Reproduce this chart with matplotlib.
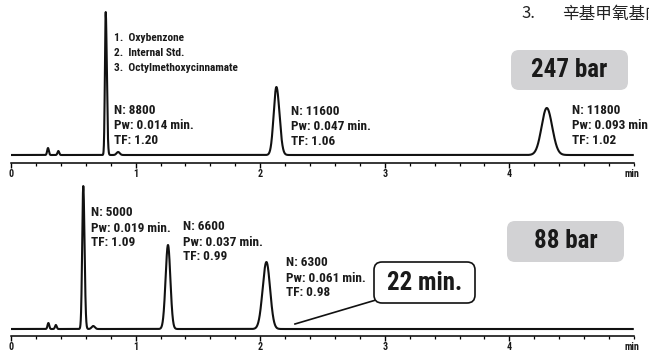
import numpy as np
import matplotlib
matplotlib.use("Agg")
import matplotlib.pyplot as plt
from matplotlib.patches import FancyBboxPatch

NARROW = ["Roboto Condensed", "Liberation Sans Narrow", "Roboto", "DejaVu Sans"]
CJK = ["Noto Sans CJK SC", "DejaVu Sans"]
plt.rcParams["font.family"] = NARROW
plt.rcParams["font.weight"] = "bold"

# peaks of the 247 bar run: retention time [min], height, half-height width [min], tailing
top_rt = [0.297, 0.38, 0.76, 0.86, 2.13, 4.30]
top_height = [7, 4, 143, 3, 68, 47]
top_width = [0.016, 0.016, 0.018, 0.03, 0.055, 0.10]
top_tf = [1.0, 1.0, 1.20, 1.0, 1.06, 1.02]

# peaks of the 88 bar run
bot_rt = [0.30, 0.36, 0.58, 0.66, 1.26, 2.05]
bot_height = [6, 4, 143, 3, 84, 67]
bot_width = [0.016, 0.016, 0.022, 0.03, 0.045, 0.07]
bot_tf = [1.0, 1.0, 1.09, 1.0, 0.99, 0.98]

legend_lines = ["1.  Oxybenzone", "2.  Internal Std.", "3.  Octylmethoxycinnamate"]
top_stats = [["N: 8800", "Pw: 0.014 min.", "TF: 1.20"],
             ["N: 11600", "Pw: 0.047 min.", "TF: 1.06"],
             ["N: 11800", "Pw: 0.093 min", "TF: 1.02"]]
bot_stats = [["N: 5000", "Pw: 0.019 min.", "TF: 1.09"],
             ["N: 6600", "Pw: 0.037 min.", "TF: 0.99"],
             ["N: 6300", "Pw: 0.061 min.", "TF: 0.98"]]
xticks = [0, 1, 2, 3, 4]


def trace(t, rt, height, width, tf):
    y = np.zeros_like(t)
    for r, h, w, f in zip(rt, height, width, tf):
        ratio = 2 * f - 1  # back/front width at 5% height
        s_left = w / 1.1774 / (1 + ratio)
        s_right = s_left * ratio
        s = np.where(t < r, s_left, s_right)
        y += h * np.exp(-0.5 * ((t - r) / s) ** 2)
    return y


def style_axis(ax, ylim):
    ax.set_xlim(0, 5.0)
    ax.set_ylim(*ylim)
    for side in ["top", "right", "left"]:
        ax.spines[side].set_visible(False)
    ax.spines["bottom"].set_linewidth(1.1)
    ax.set_yticks([])
    ax.set_xticks(xticks)
    ax.set_xticks(np.arange(0, 5.01, 0.2), minor=True)
    ax.tick_params(axis="x", which="major", length=3.5, width=1.0, pad=0.6,
                   labelsize=7.2, labelcolor="#1a1a1a")
    ax.tick_params(axis="x", which="minor", length=2.5, width=0.9)
    ax.annotate("min", xy=(4.98, 0), xycoords=ax.get_xaxis_transform(),
                xytext=(0, -4.3), textcoords="offset points", ha="center", va="top",
                fontsize=7.2, color="#1a1a1a")


def stack(ax, x, y0, lines, step=15, size=9.5):
    for i, s in enumerate(lines):
        ax.text(x, y0 - i * step, s, ha="left", va="center", fontsize=size,
                color="#1a1a1a")


def box(fig, x0, y0, x1, y1, label, face, edge=None):
    # pixel coordinates measured from the top left corner
    H = fig.get_figheight() * 100
    patch = FancyBboxPatch((x0 / 100, (H - y1) / 100), (x1 - x0) / 100, (y1 - y0) / 100,
                           boxstyle="round,pad=0,rounding_size=0.08",
                           transform=fig.dpi_scale_trans, facecolor=face,
                           edgecolor=edge if edge else "none", linewidth=1.2)
    fig.add_artist(patch)
    fig.text((x0 + x1) / 2 / fig.get_figwidth() / 100, 1 - (y0 + y1) / 2 / H, label,
             ha="center", va="center", fontsize=18, color="#1a1a1a")


fig = plt.figure(figsize=(6.49, 3.52), dpi=100)
W, H = 649, 352
ax_top = fig.add_axes([11 / W, (H - 163) / H, 623 / W, 153 / H])
ax_bot = fig.add_axes([11 / W, (H - 336) / H, 623 / W, 153 / H])
for ax in (ax_top, ax_bot):
    ax.patch.set_alpha(0)

t = np.linspace(0, 4.99, 6000)
ax_top.plot(t, trace(t, top_rt, top_height, top_width, top_tf), color="#111111", lw=1.5)
ax_bot.plot(t, trace(t, bot_rt, bot_height, bot_width, bot_tf), color="#111111", lw=1.5)
style_axis(ax_top, (-8, 145))
style_axis(ax_bot, (-7, 146))

# top panel labels
stack(ax_top, 0.827, 117, legend_lines, size=8.2)
stack(ax_top, 0.827, 44, top_stats[0])
stack(ax_top, 2.247, 43, top_stats[1])
stack(ax_top, 4.50, 44, top_stats[2])

# bottom panel labels
stack(ax_bot, 0.642, 116, bot_stats[0])
stack(ax_bot, 1.38, 102, bot_stats[1])
stack(ax_bot, 2.207, 66, bot_stats[2])
ax_bot.plot([2.279, 2.929], [5, 29], color="#111111", lw=1.2)

box(fig, 511, 50, 628, 90, "247 bar", "#d2d2d4")
box(fig, 507, 221, 624, 262, "88 bar", "#d2d2d4")
box(fig, 374, 262, 475, 303, "22 min.", "white", edge="#111111")

fig.text(521 / W, 1 - 14 / H, "3.", ha="left", va="center", fontsize=12,
         family=CJK, fontweight="normal", color="#222222")
fig.text(562 / W, 1 - 14 / H, "辛基甲氧基肉桂酸酯", ha="left", va="center", fontsize=12,
         family=CJK, fontweight="normal", color="#222222")

fig.savefig("out.png", dpi=100)
